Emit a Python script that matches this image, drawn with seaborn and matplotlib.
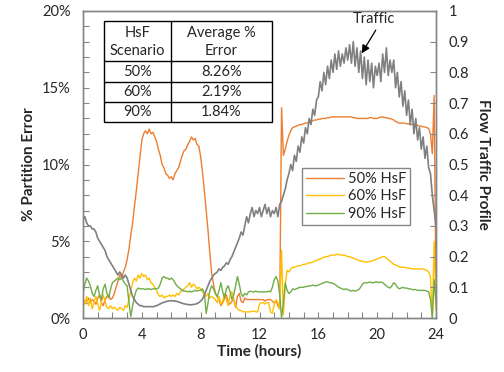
import numpy as np
import pandas as pd
import matplotlib
matplotlib.use("Agg")
import matplotlib.pyplot as plt
from matplotlib.lines import Line2D
from matplotlib.patches import Rectangle
import seaborn as sns

sns.set_style("white")
plt.rcParams['font.family'] = ['Lato', 'DejaVu Sans']

# time grid: 8 samples per hour
hours = np.arange(0, 24.001, 0.125)

# traffic profile (right axis)
traffic = [
    0.32, 0.33, 0.31, 0.30, 0.30, 0.29, 0.29, 0.28,
    0.26, 0.25, 0.24, 0.23, 0.22, 0.20, 0.19, 0.18,
    0.17, 0.16, 0.15, 0.14, 0.15, 0.14, 0.13, 0.14,
    0.13, 0.11, 0.09, 0.07, 0.06, 0.05, 0.045, 0.04,
    0.04, 0.037, 0.037, 0.037, 0.037, 0.037, 0.037, 0.038,
    0.04, 0.043, 0.046, 0.049, 0.051, 0.053, 0.055, 0.056,
    0.056, 0.056, 0.055, 0.054, 0.052, 0.05, 0.048, 0.046,
    0.045, 0.044, 0.043, 0.043, 0.044, 0.045, 0.047, 0.05,
    0.055, 0.062, 0.075, 0.09, 0.105, 0.12, 0.13, 0.14,
    0.145, 0.15, 0.16, 0.155, 0.165, 0.17, 0.18, 0.175,
    0.19, 0.20, 0.215, 0.23, 0.245, 0.26, 0.28, 0.27,
    0.30, 0.33, 0.31, 0.34, 0.36, 0.33, 0.35, 0.34,
    0.36, 0.33, 0.35, 0.37, 0.34, 0.36, 0.33, 0.35,
    0.34, 0.36, 0.33, 0.37, 0.38, 0.40, 0.42, 0.45,
    0.47, 0.50, 0.48, 0.53, 0.51, 0.56, 0.54, 0.59,
    0.57, 0.62, 0.60, 0.65, 0.63, 0.68, 0.66, 0.71,
    0.72, 0.77, 0.74, 0.80, 0.76, 0.82, 0.78, 0.84,
    0.80, 0.86, 0.81, 0.87, 0.82, 0.86, 0.83, 0.88,
    0.84, 0.89, 0.83, 0.90, 0.82, 0.88, 0.80, 0.87,
    0.78, 0.85, 0.76, 0.84, 0.77, 0.83, 0.75, 0.82,
    0.79, 0.83, 0.77, 0.86, 0.80, 0.88, 0.79, 0.84,
    0.80, 0.84, 0.75, 0.80, 0.72, 0.77, 0.69, 0.74,
    0.66, 0.71, 0.63, 0.68, 0.60, 0.65, 0.58, 0.62,
    0.55, 0.59, 0.52, 0.56, 0.49, 0.47, 0.40, 0.35,
    0.30,
]

# partition error (%) per HsF scenario
err_50 = [
    1.2, 1.0, 1.1, 1.3, 1.0, 1.2, 1.1, 0.9,
    1.3, 1.5, 1.0, 0.8, 1.2, 1.4, 1.5, 1.2,
    1.3, 1.6, 2.0, 2.4, 2.8, 2.6, 3.0, 3.3,
    3.8, 4.5, 5.4, 6.2, 7.3, 8.3, 9.4, 10.5,
    11.6, 12.0, 12.2, 12.0, 12.3, 12.0, 12.1, 11.8,
    11.5, 11.0, 10.6, 10.0, 9.8, 9.4, 9.3, 9.1,
    9.2, 9.0, 9.4, 9.6, 9.8, 10.2, 10.6, 10.9,
    11.0, 11.3, 11.5, 11.8, 11.6, 11.7, 11.3, 11.2,
    10.5, 9.5, 8.3, 7.0, 5.7, 4.2, 2.9, 2.2,
    1.6, 1.4, 1.2, 0.8, 1.0, 1.3, 1.5, 1.0,
    0.9, 1.1, 1.2, 0.7, 1.4, 1.6, 1.1, 1.0,
    1.3, 1.2, 1.2, 1.2, 1.2, 1.2, 1.2, 1.2,
    1.2, 1.2, 1.2, 1.1, 1.2, 1.2, 1.2, 1.1,
    1.0, 1.1, 0.8, 0.6, 13.7, 10.6, 11.0, 11.5,
    11.9, 12.2, 12.4, 12.45, 12.5, 12.55, 12.6, 12.6,
    12.65, 12.7, 12.7, 12.75, 12.8, 12.85, 12.9, 12.9,
    12.95, 12.95, 13.0, 13.0, 13.0, 13.05, 13.05, 13.1,
    13.1, 13.1, 13.1, 13.1, 13.1, 13.1, 13.1, 13.1,
    13.1, 13.1, 13.1, 13.05, 13.05, 13.0, 13.0, 13.0,
    13.0, 13.0, 13.0, 13.0, 13.05, 13.05, 13.0, 13.0,
    13.0, 13.05, 13.1, 13.1, 13.05, 13.05, 13.0, 13.0,
    12.95, 12.9, 12.8, 12.75, 12.7, 12.7, 12.7, 12.7,
    12.65, 12.65, 12.6, 12.6, 12.6, 12.55, 12.55, 12.5,
    12.5, 12.45, 12.45, 12.4, 12.35, 12.0, 10.7, 14.5,
    1.2,
]

err_60 = [
    1.2, 0.9, 1.4, 0.8, 1.3, 0.6, 1.0, 1.4,
    0.9, 0.5, 1.0, 1.5, 1.1, 0.7, 0.6, 0.8,
    0.6, 0.7, 0.6, 0.5, 0.7, 0.6, 0.5, 0.8,
    0.7, 1.2, 1.8, 2.3, 2.6, 2.4, 2.8, 2.6,
    2.9, 2.7, 2.8, 2.5, 2.6, 2.3, 2.2, 2.0,
    1.8, 1.5, 1.4, 1.5, 1.3, 1.4, 1.4, 1.5,
    1.4, 1.5, 1.4, 1.6, 1.5, 1.7, 1.8, 1.9,
    2.0, 2.1, 2.3, 2.0, 2.2, 2.1, 1.9, 2.0,
    1.9, 1.7, 1.6, 1.4, 1.6, 1.3, 1.4, 1.3,
    1.2, 1.0, 1.4, 0.9, 1.1, 1.6, 1.2, 0.8,
    1.5, 1.7, 1.2, 0.8, 0.6, 0.5, 0.5, 0.4,
    0.4, 0.4, 0.4, 0.4, 0.45, 0.45, 0.4, 0.4,
    0.9, 1.0, 1.0, 0.9, 1.0, 1.0, 0.4, 0.3,
    0.9, 1.2, 1.0, 0.6, 4.4, 0.2, 2.2, 3.1,
    3.0, 3.2, 3.3, 3.3, 3.35, 3.4, 3.4, 3.45,
    3.5, 3.5, 3.55, 3.6, 3.6, 3.65, 3.7, 3.75,
    3.8, 3.85, 3.9, 3.95, 4.0, 4.0, 4.05, 4.1,
    4.1, 4.1, 4.15, 4.15, 4.1, 4.1, 4.1, 4.05,
    4.0, 4.0, 3.95, 3.9, 3.85, 3.8, 3.75, 3.7,
    3.7, 3.65, 3.65, 3.65, 3.7, 3.7, 3.75, 3.8,
    3.85, 3.9, 3.95, 4.0, 4.0, 3.9, 3.8, 3.7,
    3.6, 3.5, 3.45, 3.4, 3.35, 3.3, 3.3, 3.3,
    3.25, 3.25, 3.25, 3.2, 3.2, 3.2, 3.2, 3.2,
    3.2, 3.2, 3.15, 3.1, 3.0, 2.7, 0.0, 5.0,
    0.5,
]

err_90 = [
    1.6, 2.2, 2.6, 2.4, 2.1, 1.6, 1.4, 1.8,
    2.1, 1.5, 1.2, 1.9, 2.2, 1.6, 1.3, 1.9,
    2.3, 2.4, 2.5, 2.6, 2.5, 2.6, 2.4, 2.2,
    2.1, 1.0, 0.1, 0.8, 1.4, 1.8, 1.95, 1.9,
    1.9, 1.9, 1.85, 1.9, 1.9, 1.85, 1.9, 1.9,
    1.9, 1.95, 2.2, 2.6, 2.7, 2.6, 2.6, 2.5,
    2.6, 2.5, 2.3, 2.1, 2.0, 1.9, 1.8, 1.75,
    1.75, 1.7, 1.75, 1.7, 1.75, 1.8, 1.75, 1.8,
    1.8, 1.9, 1.6, 0.3, 1.0, 1.8, 2.1, 1.9,
    1.6, 1.4, 1.8, 2.3, 1.7, 1.3, 1.9, 2.1,
    1.7, 1.2, 1.5, 2.1, 2.7, 2.2, 1.6, 1.4,
    1.6, 1.5, 1.7, 1.75, 1.7, 1.7, 1.75, 1.7,
    1.7, 1.7, 1.7, 1.7, 1.7, 1.75, 1.7, 2.0,
    2.5, 2.7, 2.4, 1.5, 0.0, 1.0, 2.3, 1.8,
    1.6, 1.7, 1.9, 1.85, 1.9, 1.95, 2.0, 2.0,
    2.0, 2.05, 2.05, 2.1, 2.1, 2.15, 2.1, 2.1,
    2.15, 2.2, 2.25, 2.3, 2.35, 2.35, 2.3, 2.3,
    2.25, 2.2, 2.1, 2.0, 1.95, 1.9, 1.85, 1.9,
    1.85, 1.8, 1.75, 1.8, 1.75, 1.8, 1.85, 2.0,
    2.2, 2.3, 2.3, 2.3, 2.35, 2.3, 2.3, 2.35,
    2.35, 2.3, 2.35, 2.3, 2.2, 2.1, 2.0, 1.95,
    2.1, 2.3, 2.2, 2.0, 1.9, 1.95, 2.0, 1.95,
    1.95, 1.9, 1.9, 1.85, 1.85, 1.85, 1.8, 1.8,
    1.8, 1.8, 1.8, 1.75, 1.7, 1.2, 0.0, 2.5,
    1.0,
]

scenarios = ["50% HsF", "60% HsF", "90% HsF"]
colors = ["#ED7D31", "#FFC000", "#70AD47"]
table_rows = [["50%", "8.26%"], ["60%", "2.19%"], ["90%", "1.84%"]]

W, H = 504, 372
fig = plt.figure(figsize=(W / 100, H / 100), dpi=100)
ax = fig.add_axes([83 / W, 1 - 318 / H, (436 - 83) / W, (318 - 11) / H])
ax2 = ax.twinx()

for name, vals, c in zip(scenarios, [err_50, err_60, err_90], colors):
    sns.lineplot(x=hours, y=vals, ax=ax, color=c, linewidth=1.0, label=name, legend=False)
sns.lineplot(x=hours, y=traffic, ax=ax2, color="#808080", linewidth=1.2, legend=False)

gray = "#868686"
ax.set_xlim(0, 24)
ax.set_ylim(0, 20)
ax2.set_ylim(0, 1)
ax.set_xticks(np.arange(0, 25, 4))
ax.set_xticks(np.arange(0, 25, 1), minor=True)
ax.set_yticks(np.arange(0, 21, 5))
ax.set_yticks(np.arange(0, 21, 1), minor=True)
ax.set_yticklabels([f"{v}%" for v in range(0, 21, 5)])
ax2.set_yticks(np.arange(0, 1.01, 0.1))
ax2.set_yticklabels(["0", "0.1", "0.2", "0.3", "0.4", "0.5", "0.6", "0.7", "0.8", "0.9", "1"])

for a in (ax, ax2):
    for s in a.spines.values():
        s.set_color(gray)
        s.set_linewidth(1.0)
    a.tick_params(which="both", direction="in", color=gray, labelsize=10.5, pad=9)
    a.tick_params(which="both", length=4, width=0.8)
ax.tick_params(axis="x", pad=7)
ax.tick_params(which="both", left=True, bottom=True)
ax2.tick_params(which="both", right=True)

ax.set_xlabel("Time (hours)", fontsize=11, fontweight="bold", labelpad=2)
ax.set_ylabel("% Partition Error", fontsize=11, fontweight="bold", labelpad=4)
ax2.set_ylabel("Flow Traffic Profile", fontsize=11, fontweight="bold", rotation=270, labelpad=15)

ax2.annotate("Traffic", xy=(18.95, 0.862), xytext=(19.8, 0.975), ha="center", va="center",
             fontsize=10.5, arrowprops=dict(arrowstyle="-|>", color="black", lw=0.9,
                                            mutation_scale=12, shrinkA=1, shrinkB=0,
                                            relpos=(0.6, 0)))

handles = [Line2D([0], [0], color=c, lw=1.0) for c in colors]
leg = ax2.legend(handles, scenarios, loc="upper left", bbox_to_anchor=(302 / W, 1 - 168 / H),
                 bbox_transform=fig.transFigure, fontsize=10.5, frameon=True, fancybox=False,
                 handlelength=2.6, handletextpad=0.3, borderpad=0.25, labelspacing=0.25,
                 borderaxespad=0, framealpha=1)
leg.get_frame().set_edgecolor(gray)
leg.get_frame().set_linewidth(1.0)


# summary table drawn in figure pixels
def fx(x):
    return x / W


def fy(y):
    return 1 - y / H


tl, tr, tc = 104, 272, 171
rows_y = [21, 61, 82, 102, 122]
fig.add_artist(Rectangle((fx(tl), fy(rows_y[-1])), fx(tr) - fx(tl), fy(rows_y[0]) - fy(rows_y[-1]),
                         transform=fig.transFigure, facecolor="white", edgecolor="black", lw=1.0, zorder=5))
for y in rows_y[1:-1]:
    fig.add_artist(Line2D([fx(tl), fx(tr)], [fy(y), fy(y)], transform=fig.transFigure, color="black", lw=1.0, zorder=6))
fig.add_artist(Line2D([fx(tc), fx(tc)], [fy(rows_y[0]), fy(rows_y[-1])], transform=fig.transFigure,
                      color="black", lw=1.0, zorder=6))
c1, c2 = (tl + tc) / 2, (tc + tr) / 2
fig.text(fx(c1), fy(42), "HsF\nScenario", ha="center", va="center", fontsize=10.5, linespacing=1.3, zorder=7)
fig.text(fx(c2), fy(42), "Average %\nError", ha="center", va="center", fontsize=10.5, linespacing=1.3, zorder=7)
for (a, b), y0, y1 in zip(table_rows, rows_y[1:-1], rows_y[2:]):
    fig.text(fx(c1), fy((y0 + y1) / 2), a, ha="center", va="center", fontsize=10.5, zorder=7)
    fig.text(fx(c2), fy((y0 + y1) / 2), b, ha="center", va="center", fontsize=10.5, zorder=7)

plt.savefig("out.png", dpi=100)
plt.close()
